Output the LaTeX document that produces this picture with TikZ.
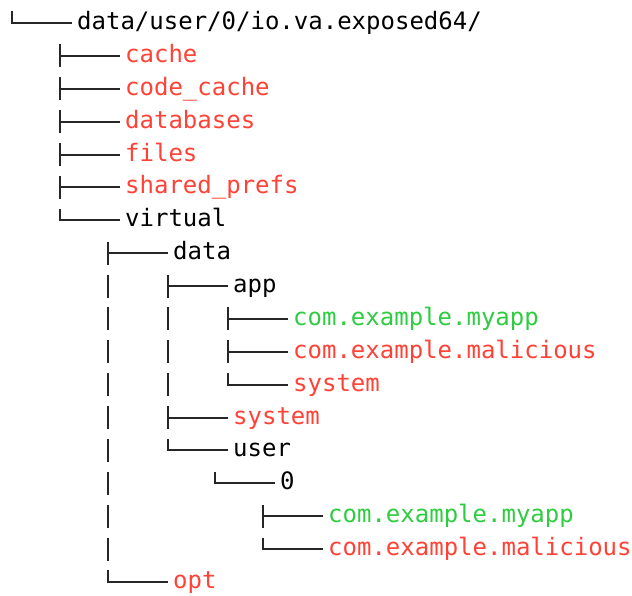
\documentclass[tikz,border=0pt]{standalone}
\usepackage{fontspec}
\setmonofont{DejaVu Sans Mono}
\usepackage{tikz}

\definecolor{dirred}{HTML}{FF4136}
\definecolor{dirgreen}{HTML}{2ECC40}

\tikzset{
  twig/.style={line width=2pt, draw=black!85},
  entry/.style={anchor=west, inner xsep=5pt, inner ysep=0pt,
    text height=14.5pt, text depth=1.5pt,
    font=\ttfamily\fontsize{24}{28}\selectfont},
  redentry/.style={entry, text=dirred},
  greenentry/.style={entry, text=dirgreen},
}

\begin{document}
\begin{tikzpicture}[x=1pt, y=-32.88pt]
        \useasboundingbox (0,-0.6995) rectangle (632,17.397);

        % entries, one per row
        \node[entry] (root) at (72,0) {data/user/0/io.va.exposed64/};
        \node[redentry] (cache) at (120,1) {cache};
        \node[redentry] (codecache) at (120,2) {code\_cache};
        \node[redentry] (databases) at (120,3) {databases};
        \node[redentry] (files) at (120,4) {files};
        \node[redentry] (sharedprefs) at (120,5) {shared\_prefs};
        \node[entry] (virtual) at (120,6) {virtual};
        \node[entry] (vdata) at (168,7) {data};
        \node[entry] (app) at (228,8) {app};
        \node[greenentry] (appmyapp) at (288,9) {com.example.myapp};
        \node[redentry] (appmal) at (288,10) {com.example.malicious};
        \node[redentry] (appsys) at (288,11) {system};
        \node[redentry] (datasys) at (228,12) {system};
        \node[entry] (user) at (228,13) {user};
        \node[entry] (zero) at (275,14) {0};
        \node[greenentry] (usermyapp) at (323,15) {com.example.myapp};
        \node[redentry] (usermal) at (323,16) {com.example.malicious};
        \node[redentry] (opt) at (168,17) {opt};

        % branches
        \draw[twig] (12,-0.35) |- (root.west);
        \draw[twig] (60,0.65) -- (60,1.35) (60,1) -- (cache.west);
        \draw[twig] (60,1.65) -- (60,2.35) (60,2) -- (codecache.west);
        \draw[twig] (60,2.65) -- (60,3.35) (60,3) -- (databases.west);
        \draw[twig] (60,3.65) -- (60,4.35) (60,4) -- (files.west);
        \draw[twig] (60,4.65) -- (60,5.35) (60,5) -- (sharedprefs.west);
        \draw[twig] (60,5.65) |- (virtual.west);
        \draw[twig] (108,6.65) -- (108,7.35) (108,7) -- (vdata.west);
        \draw[twig] (168,7.65) -- (168,8.35) (168,8) -- (app.west);
        \draw[twig] (228,8.65) -- (228,9.35) (228,9) -- (appmyapp.west);
        \draw[twig] (228,9.65) -- (228,10.35) (228,10) -- (appmal.west);
        \draw[twig] (228,10.65) |- (appsys.west);
        \draw[twig] (168,11.65) -- (168,12.35) (168,12) -- (datasys.west);
        \draw[twig] (168,12.65) |- (user.west);
        \draw[twig] (215,13.65) |- (zero.west);
        \draw[twig] (263,14.65) -- (263,15.35) (263,15) -- (usermyapp.west);
        \draw[twig] (263,15.65) |- (usermal.west);
        \draw[twig] (108,16.65) |- (opt.west);

        % pipes
        \draw[twig] (108,7.65) -- (108,8.35);
        \draw[twig] (108,8.65) -- (108,9.35);
        \draw[twig] (108,9.65) -- (108,10.35);
        \draw[twig] (108,10.65) -- (108,11.35);
        \draw[twig] (108,11.65) -- (108,12.35);
        \draw[twig] (108,12.65) -- (108,13.35);
        \draw[twig] (108,13.65) -- (108,14.35);
        \draw[twig] (108,14.65) -- (108,15.35);
        \draw[twig] (108,15.65) -- (108,16.35);
        \draw[twig] (168,8.65) -- (168,9.35);
        \draw[twig] (168,9.65) -- (168,10.35);
        \draw[twig] (168,10.65) -- (168,11.35);
    \end{tikzpicture}
\end{document}
